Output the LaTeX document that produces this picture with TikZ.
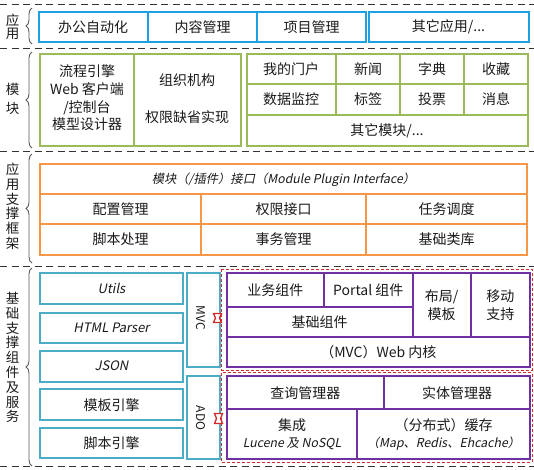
\documentclass[tikz,border=0pt]{standalone}
\usepackage{fontspec}
\setmainfont{Noto Sans CJK SC}
\newfontfamily\slfont{Noto Sans CJK SC}[FakeSlant=0.2]
\usetikzlibrary{decorations.pathreplacing}
\definecolor{cblue}{HTML}{1BA1E2}
\definecolor{cgreen}{HTML}{9BBB59}
\definecolor{corange}{HTML}{F79646}
\definecolor{cteal}{HTML}{4BACC6}
\definecolor{cpurple}{HTML}{7030A0}
\definecolor{cred}{HTML}{D42A2A}
\definecolor{ctext}{HTML}{1A1A1A}
\begin{document}
\begin{tikzpicture}[x=1pt,y=-1pt,line join=miter,
  txt/.style={font=\fontsize{14}{17.7}\selectfont,text=ctext,inner sep=0pt,align=center},
  stxt/.style={font=\fontsize{12.3}{14}\slfont,text=ctext,inner sep=0pt,align=center},
  vlab/.style={font=\fontsize{13.5}{14.8}\selectfont,text=ctext,inner sep=0pt,align=center},
  sepline/.style={draw=black!80,line width=1.4pt,dash pattern=on 7pt off 4.5pt},
  brc/.style={draw=black!65,line width=0.9pt,decorate,decoration={brace,amplitude=6pt}},
  box/.style={line width=2pt},
  reddash/.style={draw=cred,line width=1pt,dash pattern=on 3pt off 2pt},
  tag/.style={draw=cred,fill=white,line width=1.3pt}
]
\useasboundingbox (0,0) rectangle (534,469);

% separators
\foreach \yy in {4.7,48.3,151.7,266.5,466.7}
  \draw[sepline] (0,\yy) -- (534,\yy);

% braces
\draw[brc] (32,44) -- (32,8);
\draw[brc] (32,148) -- (32,52);
\draw[brc] (32,263) -- (32,154);
\draw[brc] (32,466) -- (32,268);

% layer labels
\node[vlab,font=\fontsize{13.5}{12.9}\selectfont] (l1) at (12.5,27) {应\\用};
\node[vlab,font=\fontsize{13.5}{19}\selectfont] (l2) at (12.5,99) {模\\块};
\node[vlab] (l3) at (12.5,206.3) {应\\用\\支\\撑\\框\\架};
\node[vlab] (l4) at (12.5,357.5) {基\\础\\支\\撑\\组\\件\\及\\服\\务};

% ---------- application layer ----------
\draw[box,draw=cblue] (38.5,12) rectangle (365.5,42);
\draw[box,draw=cblue] (148,12) -- (148,42) (257,12) -- (257,42);
\draw[box,draw=cblue] (369,12) rectangle (528.5,42);
\node[txt] (a1) at (93,27) {办公自动化};
\node[txt] (a2) at (202.5,27) {内容管理};
\node[txt] (a3) at (311.5,27) {项目管理};
\node[txt] (a4) at (448.5,27) {其它应用/...};

% ---------- module layer ----------
\draw[box,draw=cgreen] (40,53.5) rectangle (241,145.5);
\draw[box,draw=cgreen] (133.7,53.5) -- (133.7,145.5);
\draw[box,draw=cgreen] (246.6,53.5) rectangle (528,145.5);
\draw[box,draw=cgreen] (246.6,83.5) -- (528,83.5) (246.6,114.5) -- (528,114.5);
\draw[box,draw=cgreen] (335.7,53.5) -- (335.7,114.5) (400,53.5) -- (400,114.5) (464,53.5) -- (464,114.5);
\node[txt] (m1) at (87,98) {流程引擎\\Web 客户端\\/控制台\\模型设计器};
\node[txt] (m2) at (187,80.5) {组织机构};
\node[txt] (m3) at (187,117.5) {权限缺省实现};
\node[txt] (m4) at (291,69) {我的门户};
\node[txt] (m5) at (368,69) {新闻};
\node[txt] (m6) at (432,69) {字典};
\node[txt] (m7) at (496,69) {收藏};
\node[txt] (m8) at (291,99.5) {数据监控};
\node[txt] (m9) at (368,99.5) {标签};
\node[txt] (m10) at (432,99.5) {投票};
\node[txt] (m11) at (496,99.5) {消息};
\node[txt] (m12) at (387,130.5) {其它模块/...};

% ---------- application support framework ----------
\draw[box,draw=corange] (40,164) rectangle (527,254.5);
\draw[box,draw=corange] (40,194.3) -- (527,194.3) (40,224.3) -- (527,224.3);
\draw[box,draw=corange] (201,194.3) -- (201,254.5) (366,194.3) -- (366,254.5);
\node[stxt] (f0) at (283.5,179.5) {模块（/插件）接口（Module Plugin Interface）};
\node[txt] (f1) at (120.5,209.5) {配置管理};
\node[txt] (f2) at (283.5,209.5) {权限接口};
\node[txt] (f3) at (446.5,209.5) {任务调度};
\node[txt] (f4) at (120.5,239.5) {脚本处理};
\node[txt] (f5) at (283.5,239.5) {事务管理};
\node[txt] (f6) at (446.5,239.5) {基础类库};

% ---------- base components ----------
\draw[box,draw=cteal] (40,273) rectangle (183,304.3);
\draw[box,draw=cteal] (40,312.7) rectangle (183,343.3);
\draw[box,draw=cteal] (40,350.7) rectangle (183,381.7);
\draw[box,draw=cteal] (40,389.3) rectangle (183,420);
\draw[box,draw=cteal] (40,427.7) rectangle (183,458.3);
\node[stxt,font=\fontsize{13}{15}\slfont] (b1) at (111.5,288.7) {Utils};
\node[stxt,font=\fontsize{13}{15}\slfont] (b2) at (111.5,328) {HTML Parser};
\node[stxt,font=\fontsize{13}{15}\slfont] (b3) at (111.5,366.2) {JSON};
\node[txt] (b4) at (111.5,404.7) {模板引擎};
\node[txt] (b5) at (111.5,443) {脚本引擎};

% MVC / ADO boxes
\draw[box,draw=cteal] (187,273) rectangle (220,367);
\draw[box,draw=cteal] (187,376) rectangle (220,459);
\node[txt,font=\fontsize{12}{14}\selectfont,rotate=-90] (mvc) at (200.5,318) {MVC};
\node[txt,font=\fontsize{12}{14}\selectfont,rotate=-90] (ado) at (200.5,418) {ADO};

% red dashed groups
\draw[reddash] (221.7,269) rectangle (532,370);
\draw[reddash] (221.7,372.7) rectangle (532,462);

% tags
\draw[tag] (213.5,313.5) -- (221.5,313.5) -- (219.5,318) -- (221.5,322.5) -- (213.5,322.5) -- (215.5,318) -- cycle;
\draw[tag] (214.5,413.5) -- (222.5,413.5) -- (220.5,418.5) -- (222.5,423.5) -- (214.5,423.5) -- (216.5,418.5) -- cycle;

% purple MVC group
\draw[box,draw=cpurple] (226.7,273) rectangle (530,367);
\draw[box,draw=cpurple] (226.7,306.7) -- (412.7,306.7) (226.7,336.7) -- (530,336.7);
\draw[box,draw=cpurple] (324,273) -- (324,306.7) (412.7,273) -- (412.7,336.7) (470.7,273) -- (470.7,336.7);
\node[txt] (p1) at (275.3,290) {业务组件};
\node[txt] (p2) at (368.3,290) {Portal 组件};
\node[txt] (p3) at (441.7,305) {布局/\\模板};
\node[txt] (p4) at (500.3,305) {移动\\支持};
\node[txt] (p5) at (319.7,322) {基础组件};
\node[txt] (p6) at (378.3,352) {（MVC）Web 内核};

% purple ADO group
\draw[box,draw=cpurple] (226.7,376) rectangle (530,459);
\draw[box,draw=cpurple] (226.7,409) -- (530,409);
\draw[box,draw=cpurple] (384,376) -- (384,409) (357,409) -- (357,459);
\node[txt] (q1) at (305.3,393) {查询管理器};
\node[txt] (q2) at (457,393) {实体管理器};
\node[txt] (q3) at (292,425.5) {集成};
\node[stxt] (q4) at (292,443.5) {Lucene 及 NoSQL};
\node[txt] (q5) at (443.5,425.5) {（分布式）缓存};
\node[stxt] (q6) at (443.5,443.5) {（Map、Redis、Ehcache）};
\end{tikzpicture}
\end{document}
